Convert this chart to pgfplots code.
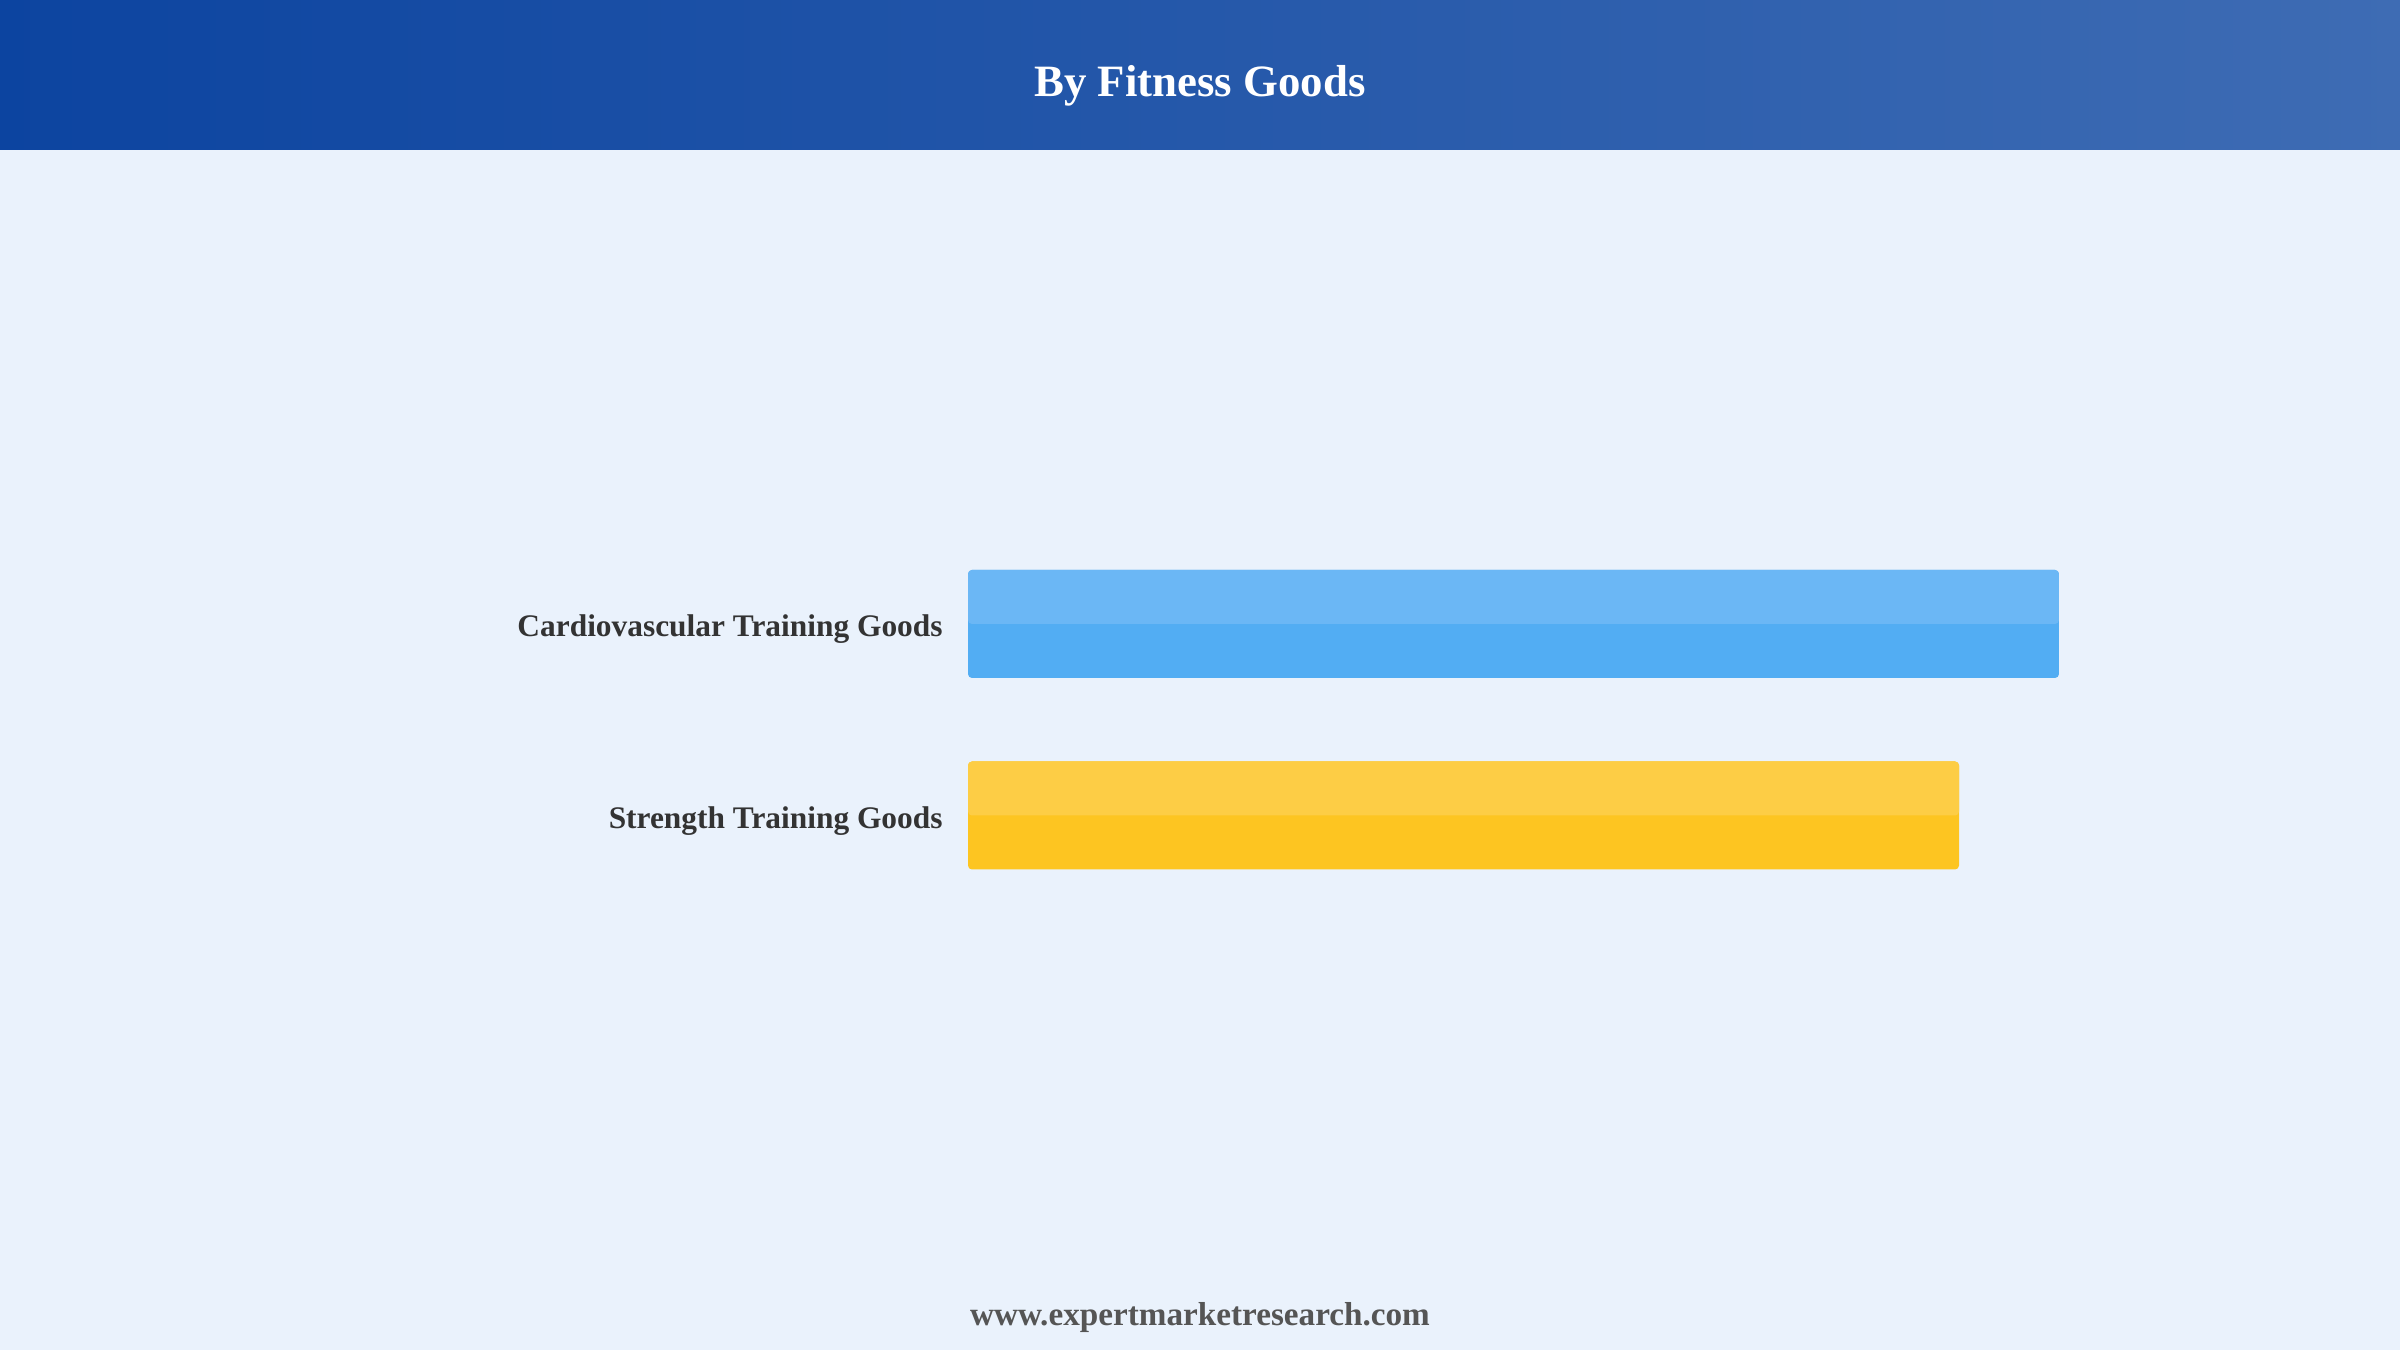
\documentclass[border=0pt]{standalone}
\usepackage{pgfplots}
\pgfplotsset{compat=1.18}
\usepackage{fontspec}
\setmainfont{Liberation Serif}

\definecolor{pagebg}{HTML}{EAF2FC}
\definecolor{headL}{HTML}{0C44A0}
\definecolor{headR}{HTML}{3E6CB4}
\definecolor{blueTop}{HTML}{6BB7F5}
\definecolor{blueBot}{HTML}{52ADF3}
\definecolor{yelTop}{HTML}{FDCD45}
\definecolor{yelBot}{HTML}{FDC521}
\definecolor{labeltxt}{HTML}{333333}
\definecolor{foottxt}{HTML}{555555}

\begin{document}
\begin{tikzpicture}[x=1pt,y=1pt]
    % page and header band
    \fill[pagebg] (0,0) rectangle (1200,675);
    \shade[left color=headL, right color=headR] (0,600) rectangle (1200,675);
    \node[anchor=base, text=white, font=\fontsize{22.4}{26}\selectfont\bfseries]
        at (600,626.5) {By Fitness Goods};
    \node[anchor=base, text=foottxt, font=\fontsize{16.6}{20}\selectfont\bfseries]
        at (600,12.5) {www.expertmarketresearch.com};

    \begin{axis}[
        at={(484pt,267.25pt)},
        anchor=origin,
        x=10.41pt, y=95.75pt,
        xmin=0, xmax=60,
        ymin=-0.5, ymax=1.5,
        axis line style={draw=none},
        tick style={draw=none},
        xbar,
        ytick={0,1},
        yticklabels={Strength Training Goods, Cardiovascular Training Goods},
        xtick=\empty,
        major tick length=0pt,
        yticklabel style={anchor=base east, inner sep=0pt, xshift=-12.5pt, yshift=-6.5pt,
            text=labeltxt, font=\fontsize{15.7}{19}\selectfont\bfseries},
        clip=false,
        ]
        % cardiovascular
        \addplot[draw=none, fill=blueBot, bar width=54pt, bar shift=0pt, rounded corners=2pt]
            coordinates {(52.4,1)};
        \addplot[draw=none, fill=blueTop, bar width=27pt, bar shift=13.5pt, rounded corners=2pt]
            coordinates {(52.4,1)};
        % strength
        \addplot[draw=none, fill=yelBot, bar width=54pt, bar shift=0pt, rounded corners=2pt]
            coordinates {(47.6,0)};
        \addplot[draw=none, fill=yelTop, bar width=27pt, bar shift=13.5pt, rounded corners=2pt]
            coordinates {(47.6,0)};
    \end{axis}
\end{tikzpicture}
\end{document}
